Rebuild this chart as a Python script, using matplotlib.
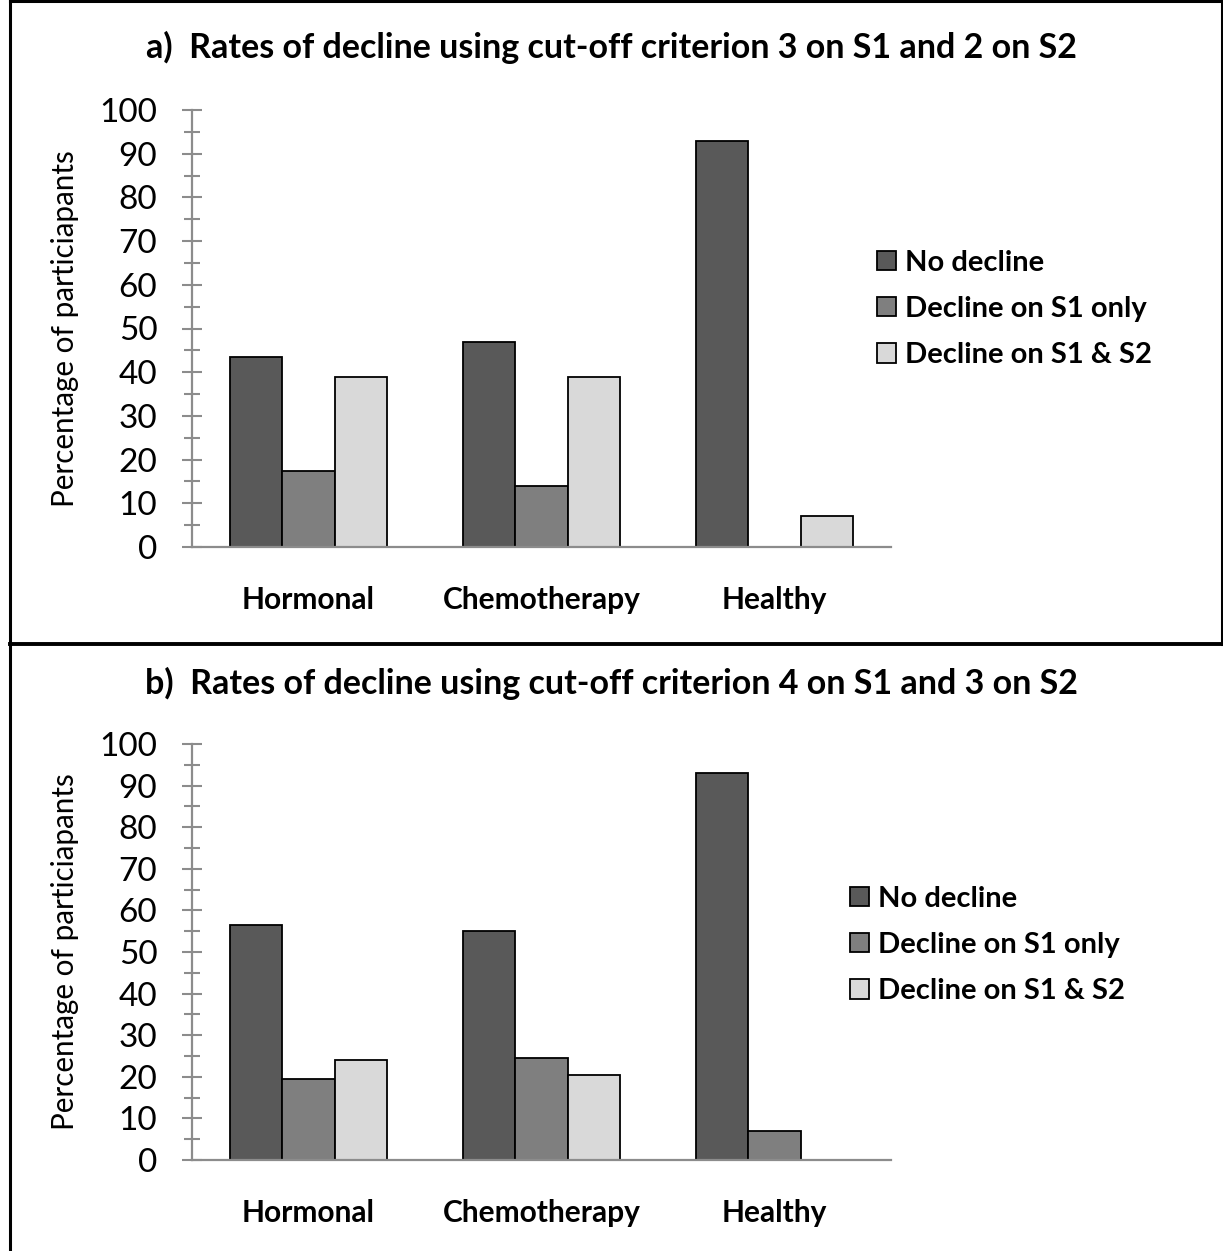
import matplotlib
matplotlib.use("Agg")
import matplotlib.pyplot as plt
import numpy as np
from matplotlib.lines import Line2D
from matplotlib.ticker import MultipleLocator

plt.rcParams['font.family'] = ['Lato', 'DejaVu Sans']

categories = ["Hormonal", "Chemotherapy", "Healthy"]
series_names = ["No decline", "Decline on S1 only", "Decline on S1 & S2"]

# panel a
a_no_decline = [43.5, 47, 93]
a_s1_only = [17.5, 14, 0]
a_s1_s2 = [39, 39, 7]

# panel b
b_no_decline = [56.5, 55, 93]
b_s1_only = [19.5, 24.5, 7]
b_s1_s2 = [24, 20.5, 0]

title_a = "a)  Rates of decline using cut-off criterion 3 on S1 and 2 on S2"
title_b = "b)  Rates of decline using cut-off criterion 4 on S1 and 3 on S2"
ylabel = "Percentage of particiapants"

colors = ["#595959", "#7f7f7f", "#d9d9d9"]
axis_gray = "#8c8c8c"

W, H = 1223, 1251
fig = plt.figure(figsize=(W / 100, H / 100), dpi=100)


def fx(px):
    return px / W


def fy(py):
    return 1 - py / H


def draw_panel(rect, series, title, title_y, legend_xy):
    ax = fig.add_axes(rect)
    x = np.arange(len(categories))
    bw = 0.2233
    for i, (vals, c, name) in enumerate(zip(series, colors, series_names)):
        ax.bar(x + (i - 1) * bw, vals, width=bw, color=c, edgecolor="black",
               linewidth=1.3, label=name, zorder=3)
    ax.set_xlim(-0.5, 2.5)
    ax.set_ylim(0, 100)
    ax.yaxis.set_major_locator(MultipleLocator(10))
    ax.yaxis.set_minor_locator(MultipleLocator(5))
    for s in ["top", "right"]:
        ax.spines[s].set_visible(False)
    for s in ["left", "bottom"]:
        ax.spines[s].set_color(axis_gray)
        ax.spines[s].set_linewidth(1.6)
        ax.spines[s].set_zorder(4)
    ax.tick_params(axis="y", which="major", direction="inout", length=14,
                   width=1.5, color=axis_gray, labelsize=24, pad=18)
    ax.tick_params(axis="y", which="minor", direction="inout", length=12,
                   width=1.5, color=axis_gray)
    ax.tick_params(axis="x", length=0, labelsize=21.5, pad=28)
    ax.set_xticks(x)
    ax.set_xticklabels(categories, fontweight="bold")
    ax.set_ylabel(ylabel, fontsize=21.3, labelpad=15)
    fig.text(0.5, fy(title_y), title, ha="center", va="center",
             fontsize=24.5, fontweight="bold")
    ax.legend(loc="center left", bbox_to_anchor=legend_xy,
              bbox_transform=fig.transFigure, frameon=False,
              prop={"size": 21, "weight": "bold"},
              handlelength=0.65, handleheight=0.65, handletextpad=0.3,
              labelspacing=0.69, borderpad=0, borderaxespad=0)
    return ax


# top panel: axis x 192..891, y 110..547
draw_panel([fx(192), fy(547), fx(891) - fx(192), fy(110) - fy(547)],
           [a_no_decline, a_s1_only, a_s1_s2], title_a, 47,
           (fx(877), fy(309)))
# bottom panel: axis y 744..1160
draw_panel([fx(192), fy(1160), fx(891) - fx(192), fy(744) - fy(1160)],
           [b_no_decline, b_s1_only, b_s1_s2], title_b, 683,
           (fx(850), fy(945)))

# frame lines
lw = 2.2
fig.add_artist(Line2D([fx(10), fx(10)], [0, 1], color="black", lw=lw))
fig.add_artist(Line2D([fx(10), 1], [fy(1), fy(1)], color="black", lw=lw))
fig.add_artist(Line2D([fx(1221.5), fx(1221.5)], [fy(644), 1], color="black", lw=lw))
fig.add_artist(Line2D([fx(10), 1], [fy(644), fy(644)], color="black", lw=lw + 0.6))

fig.savefig("out.png", dpi=100, facecolor="white")
